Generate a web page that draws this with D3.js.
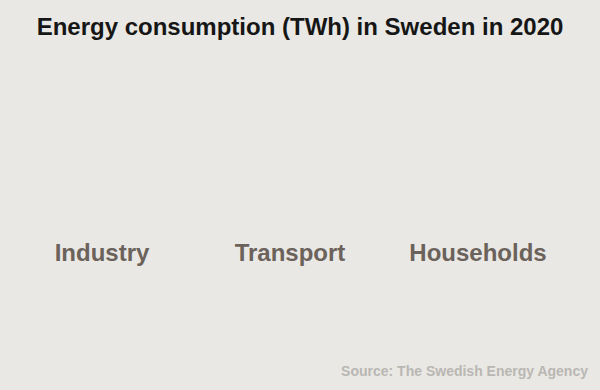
<!DOCTYPE html>
<html><head><meta charset="utf-8">
<script src="https://cdn.jsdelivr.net/npm/d3@7"></script>
<style>
html,body{margin:0;padding:0;background:#e9e8e4;}
svg{display:block;font-family:"Liberation Sans",Arial,sans-serif;}
</style></head>
<body>
<svg id="chart" width="600" height="390"></svg>
<script>
const title = "Energy consumption (TWh) in Sweden in 2020";
const categories = ["Industry", "Transport", "Households"];
const source = "Source: The Swedish Energy Agency";

const W = 600, H = 390;
const svg = d3.select("#chart");
svg.append("rect").attr("width", W).attr("height", H).attr("fill", "#e9e8e4");

svg.append("text").attr("x", W/2).attr("y", 35)
  .attr("text-anchor", "middle").attr("font-weight", "bold")
  .attr("font-size", 24).attr("fill", "#161616").text(title);

const x = d3.scaleBand().domain(categories).range([8, 572]);
const axis = d3.axisBottom(x).tickSize(0).tickPadding(0);
const g = svg.append("g").attr("transform", "translate(0,244)").call(axis);
g.select(".domain").remove();
g.selectAll("text").attr("font-size", 24).attr("font-weight", "bold")
  .attr("font-family", "Liberation Sans, Arial, sans-serif")
  .attr("fill", "#6b625b").attr("dy", "0.71em");

svg.append("text").attr("x", 588).attr("y", 376)
  .attr("text-anchor", "end").attr("font-weight", "bold")
  .attr("font-size", 14).attr("fill", "#b9b7b3").text(source);
</script>
</body></html>
